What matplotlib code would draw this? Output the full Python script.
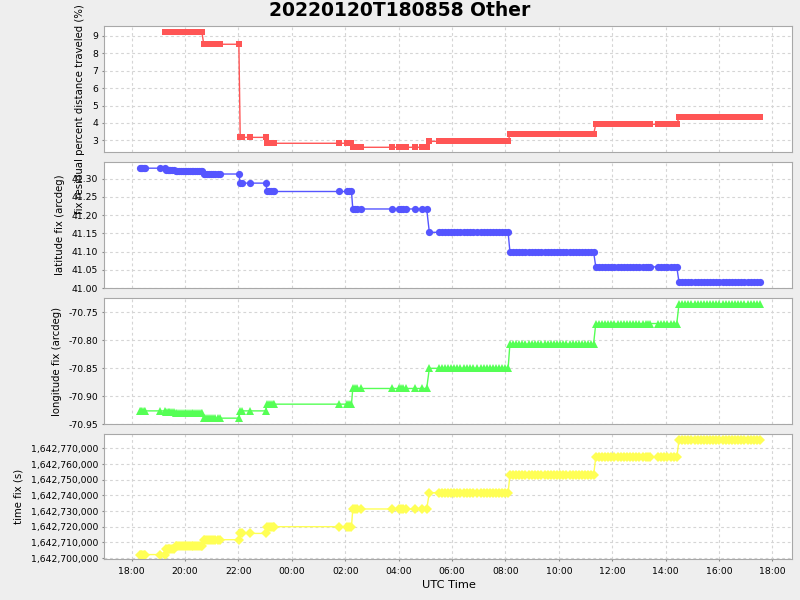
import datetime as dt
import numpy as np
import matplotlib
matplotlib.use("Agg")
import matplotlib.pyplot as plt
import matplotlib.dates as mdates
from matplotlib.ticker import FuncFormatter, MultipleLocator

# observation times (UTC), one list per fix
fix_times = [
    ["18:18", "18:21", "18:24", "18:27", "18:31", "19:04"],
    ["19:15"],
    ["19:18", "19:21", "19:24", "19:27", "19:31", "19:35"],
    ["19:39", "19:43", "19:47", "19:51", "19:55", "19:59", "20:03", "20:07",
     "20:11", "20:15", "20:19", "20:23", "20:27", "20:31", "20:35", "20:38"],
    ["20:42", "20:46", "20:50", "20:54", "20:58", "21:03", "21:08", "21:13",
     "21:18", "22:01"],
    ["22:04", "22:08", "22:26", "23:01"],
    ["23:05", "23:09", "23:13", "23:17", "23:21", "01:46", "02:04", "02:09", "02:14"],
    ["02:17", "02:21", "02:26", "02:35", "03:44", "04:00", "04:05", "04:10",
     "04:16", "04:37", "04:52", "05:03"],
    ["05:09", "05:30", "05:37", "05:44", "05:51", "05:58", "06:05", "06:12",
     "06:19", "06:26", "06:33", "06:40", "06:47", "06:57", "07:04", "07:11",
     "07:18", "07:25", "07:32", "07:39", "07:46", "07:53", "08:00", "08:06"],
    ["08:10", "08:17", "08:24", "08:31", "08:38", "08:45", "08:53", "09:00",
     "09:07", "09:14", "09:21", "09:28", "09:35", "09:42", "09:49", "09:56",
     "10:03", "10:10", "10:17", "10:24", "10:31", "10:38", "10:45", "10:52",
     "10:59", "11:06", "11:13", "11:18"],
    ["11:23", "11:30", "11:37", "11:44", "11:51", "11:58", "12:05", "12:12",
     "12:19", "12:26", "12:33", "12:40", "12:47", "12:54", "13:01", "13:08",
     "13:15", "13:21", "13:25", "13:43", "13:50", "13:57", "14:04", "14:11",
     "14:18", "14:25"],
    ["14:30", "14:37", "14:44", "14:51", "14:58", "15:05", "15:12", "15:19",
     "15:26", "15:33", "15:40", "15:47", "15:54", "16:01", "16:08", "16:15",
     "16:22", "16:29", "16:36", "16:43", "16:50", "16:57", "17:04", "17:11",
     "17:18", "17:25", "17:32"],
]

# one value per fix
pct_resid = [None, 9.21, 9.21, 9.21, 8.52, 3.17, 2.83, 2.60, 2.94, 3.34, 3.92, 4.32]
lat_fix = [41.329, 41.329, 41.325, 41.321, 41.313, 41.288, 41.265, 41.217,
           41.153, 41.100, 41.058, 41.016]
lon_fix = [-70.926, -70.926, -70.928, -70.930, -70.939, -70.926, -70.914, -70.886,
           -70.850, -70.807, -70.770, -70.735]
time_fix = [1642702200, 1642702200, 1642705700, 1642707500, 1642711700, 1642715700,
            1642720000, 1642731300, 1642741700, 1642752800, 1642764300, 1642775100]


def to_dt(s):
    h, m = map(int, s.split(":"))
    day = 20 if h >= 18 else 21
    return dt.datetime(2022, 1, day, h, m)


times, pct, lat, lon, tfx = [], [], [], [], []
for i, grp in enumerate(fix_times):
    for s in grp:
        times.append(to_dt(s))
        pct.append(np.nan if pct_resid[i] is None else pct_resid[i])
        lat.append(lat_fix[i])
        lon.append(lon_fix[i])
        tfx.append(time_fix[i])

fig = plt.figure(figsize=(8, 6), dpi=100, facecolor="#EEEEEE")
left, width = 0.1306, 0.86
bottoms = [0.7467, 0.52, 0.2928, 0.0678]
heights = [0.21, 0.21, 0.21, 0.2083]
axes = [fig.add_axes([left, b, width, h]) for b, h in zip(bottoms, heights)]

series = [
    (pct, "#FF5555", "s", 5.0, "fix residual percent distance traveled (%)"),
    (lat, "#5555FF", "o", 5.2, "latitude fix (arcdeg)"),
    (lon, "#55FF55", "^", 5.4, "longitude fix (arcdeg)"),
    (tfx, "#FFFF55", "D", 4.6, "time fix (s)"),
]

xmin = dt.datetime(2022, 1, 20, 16, 59)
xmax = dt.datetime(2022, 1, 21, 18, 45)

for ax, (vals, col, mk, ms, lab) in zip(axes, series):
    ax.plot(times, vals, color=col, lw=1.0, marker=mk, ms=ms, mew=0)
    ax.set_facecolor("white")
    ax.set_xlim(xmin, xmax)
    ax.grid(True, color="#D5D5D5", linestyle=(0, (2.5, 2.5)), linewidth=0.8)
    ax.set_axisbelow(True)
    for sp in ax.spines.values():
        sp.set_color("#A8A8A8")
    ax.tick_params(axis="both", labelsize=6.7, length=1.5, color="#888888", pad=3)
    ax.set_ylabel(lab, fontsize=7.3, labelpad=5)
    ax.xaxis.set_major_locator(mdates.HourLocator(byhour=range(0, 24, 2)))
    ax.xaxis.set_major_formatter(mdates.DateFormatter("%H:%M"))

for ax in axes[:3]:
    ax.tick_params(axis="x", bottom=False, labelbottom=False)

axes[0].set_ylim(2.33, 9.57)
axes[0].yaxis.set_major_locator(MultipleLocator(1))
# long label hangs down past the panel, as in the original
axes[0].yaxis.set_label_coords(-0.028, 0.34)

axes[1].set_ylim(41.0, 41.346)
axes[1].yaxis.set_major_locator(MultipleLocator(0.05))
axes[1].yaxis.set_major_formatter(FuncFormatter(lambda v, p: f"{v:.2f}"))

axes[2].set_ylim(-70.95, -70.725)
axes[2].yaxis.set_major_locator(MultipleLocator(0.05))
axes[2].yaxis.set_major_formatter(FuncFormatter(lambda v, p: f"{v:.2f}"))

axes[3].set_ylim(1642699170, 1642778930)
axes[3].yaxis.set_major_locator(MultipleLocator(10000))
axes[3].yaxis.set_major_formatter(FuncFormatter(lambda v, p: f"{v:,.0f}"))
axes[3].tick_params(axis="x", pad=4)
axes[3].set_xlabel("UTC Time", fontsize=8.2, labelpad=3)

fig.suptitle("20220120T180858 Other", fontsize=13.5, fontweight="bold", y=0.983, va="center")

fig.savefig("out.png", dpi=100, facecolor=fig.get_facecolor())
